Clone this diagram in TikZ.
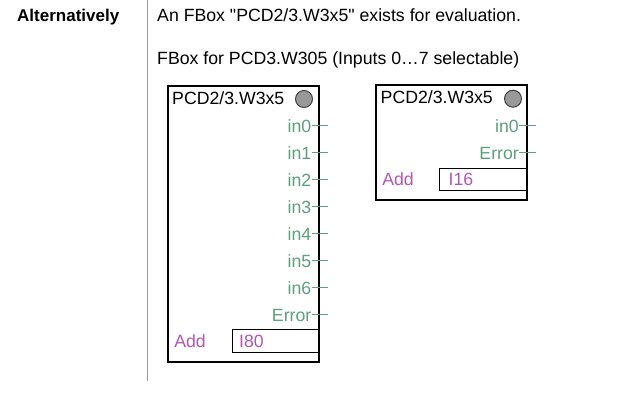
\documentclass[tikz,border=0pt]{standalone}
\usepackage{fontspec}
\setmainfont{Liberation Sans}
\usetikzlibrary{positioning}
\definecolor{pingreen}{RGB}{92,160,124}
\definecolor{addpink}{RGB}{176,88,176}
\begin{document}
\begin{tikzpicture}[x=1pt,y=-1pt,node distance=27pt,
    font=\fontsize{17.7pt}{21pt}\selectfont,
    every node/.style={inner sep=0pt,text height=12.7pt,text depth=0pt},
    fbox/.style={draw,line width=1.5pt,anchor=north west},
    led/.style={circle,draw=black!75,fill=black!40,line width=1pt,minimum size=17pt},
    io/.style={text=pingreen,text width=44pt,align=right},
    pinline/.style={draw=pingreen,line width=1pt},
    adr/.style={text=addpink},
    field/.style={draw,line width=1pt,anchor=north west}]
  \useasboundingbox (0,0) rectangle (644,407);
  \node (alt) [anchor=west,font=\fontsize{17pt}{20pt}\selectfont\bfseries] at (17,14.8) {Alternatively};
  \node (intro) [anchor=west] at (157,14.8) {An FBox \textquotedbl PCD2/3.W3x5\textquotedbl{} exists for evaluation.};
  \node (note) [anchor=west] at (157,57.8) {FBox for PCD3.W305 (Inputs 0…7 selectable)};
  \draw[black!40,line width=1pt] (147,0) -- (147,381);

  \node (box1) [fbox,minimum width=151pt,minimum height=276pt] at (167,85) {};
  \node (name1) [anchor=west] at (172,98) {PCD2/3.W3x5};
  \node (led1) [led] at (304,99) {};
  \node (in0) [io,anchor=east] at (311.5,125.7) {in0};
  \node (in1) [io,below of=in0] {in1};
  \node (in2) [io,below of=in1] {in2};
  \node (in3) [io,below of=in2] {in3};
  \node (in4) [io,below of=in3] {in4};
  \node (in5) [io,below of=in4] {in5};
  \node (in6) [io,below of=in5] {in6};
  \node (err) [io,below of=in6] {Error};
  \node (adr1) [field,minimum width=86pt,minimum height=23pt] at (232,329) {};
  \node (add1) [adr,left=26pt of adr1.west] {Add};
  \node (val1) [adr,right=7pt of adr1.west] {I80};

  \node (box2) [fbox,minimum width=151pt,minimum height=115pt] at (375,84) {};
  \node (name2) [anchor=west] at (380.5,97.5) {PCD2/3.W3x5};
  \node (led2) [led] at (513,98.7) {};
  \node (rin0) [io,anchor=east] at (519,125.7) {in0};
  \node (rerr) [io,below of=rin0] {Error};
  \node (adr2) [field,minimum width=87pt,minimum height=22.5pt] at (439,167.5) {};
  \node (add2) [adr,left=25pt of adr2.west] {Add};
  \node (val2) [adr,right=9.5pt of adr2.west] {I16};

  \draw[pinline] (in0.east) -- ([xshift=16.5pt]in0.east);
  \draw[pinline] (in1.east) -- ([xshift=16.5pt]in1.east);
  \draw[pinline] (in2.east) -- ([xshift=16.5pt]in2.east);
  \draw[pinline] (in3.east) -- ([xshift=16.5pt]in3.east);
  \draw[pinline] (in4.east) -- ([xshift=16.5pt]in4.east);
  \draw[pinline] (in5.east) -- ([xshift=16.5pt]in5.east);
  \draw[pinline] (in6.east) -- ([xshift=16.5pt]in6.east);
  \draw[pinline] (err.east) -- ([xshift=16.5pt]err.east);
  \draw[pinline] (rin0.east) -- ([xshift=16.5pt]rin0.east);
  \draw[pinline] (rerr.east) -- ([xshift=16.5pt]rerr.east);
\end{tikzpicture}
\end{document}
